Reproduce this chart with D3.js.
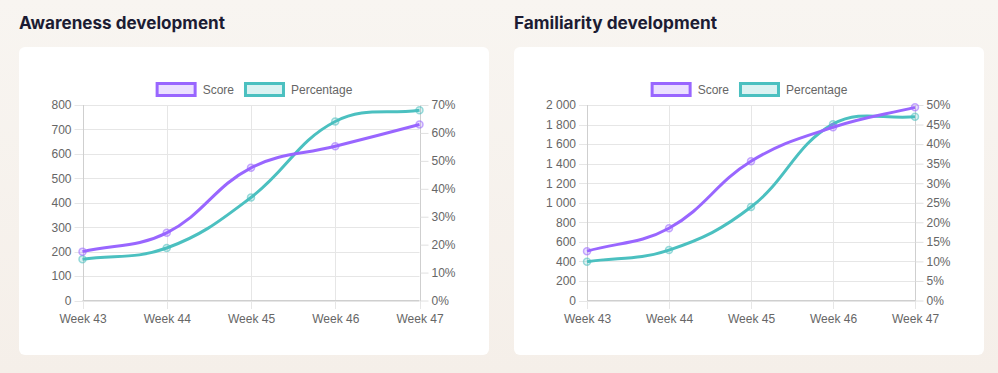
<!DOCTYPE html>
<html lang="en">
<head>
<meta charset="utf-8">
<title>Development charts</title>
<script src="https://cdn.jsdelivr.net/npm/d3@7"></script>
<style>
  html, body { margin: 0; padding: 0; }
  body { background: #f6f1eb; width: 998px; height: 373px; overflow: hidden; }
  svg { display: block; }
</style>
</head>
<body>
<script>
// Data
var weeks = ["Week 43", "Week 44", "Week 45", "Week 46", "Week 47"];

var awarenessScore = [200, 277, 543, 631, 720];
var awarenessPct = [14.8, 18.8, 36.9, 64.1, 68.1];
var awarenessScoreTicks = [0, 100, 200, 300, 400, 500, 600, 700, 800];
var awarenessPctTicks = [0, 10, 20, 30, 40, 50, 60, 70];

var familiarityScore = [505, 739, 1424, 1772, 1976];
var familiarityPct = [9.9, 12.9, 23.9, 45.1, 47.0];
var familiarityScoreTicks = [0, 200, 400, 600, 800, 1000, 1200, 1400, 1600, 1800, 2000];
var familiarityPctTicks = [0, 5, 10, 15, 20, 25, 30, 35, 40, 45, 50];

var purple = "#9966ff", purpleFill = "rgba(153,102,255,0.2)";
var teal = "#4bc0c0", tealFill = "rgba(75,192,192,0.2)";
var labelFont = "'Liberation Sans', Arial, Helvetica, sans-serif";

var spaceFmt = d3.formatLocale({ decimal: ",", thousands: " ", grouping: [3], currency: ["", ""] }).format(",d");

var svg = d3.select("body").append("svg")
    .attr("width", 998)
    .attr("height", 373);

// soft page background
var defs = svg.append("defs");
var grad = defs.append("linearGradient").attr("id", "bg").attr("x1", 0).attr("y1", 0).attr("x2", 0).attr("y2", 1);
grad.append("stop").attr("offset", "0%").attr("stop-color", "#f8f5f1");
grad.append("stop").attr("offset", "100%").attr("stop-color", "#f5efe9");
svg.append("rect").attr("width", 998).attr("height", 373).attr("fill", "url(#bg)");

// chart.js-like bezier spline through pixel points
function splinePath(pts, t) {
    var cps = pts.map(function(cur, i) {
        var prev = pts[i - 1] || cur, next = pts[i + 1] || cur;
        var d01 = Math.hypot(cur[0] - prev[0], cur[1] - prev[1]);
        var d12 = Math.hypot(next[0] - cur[0], next[1] - cur[1]);
        var s01 = d01 / (d01 + d12), s12 = d12 / (d01 + d12);
        if (isNaN(s01)) s01 = 0;
        if (isNaN(s12)) s12 = 0;
        var fa = t * s01, fb = t * s12;
        return {
            prev: [cur[0] - fa * (next[0] - prev[0]), cur[1] - fa * (next[1] - prev[1])],
            next: [cur[0] + fb * (next[0] - prev[0]), cur[1] + fb * (next[1] - prev[1])]
        };
    });
    var p = d3.path();
    p.moveTo(pts[0][0], pts[0][1]);
    for (var i = 1; i < pts.length; i++) {
        p.bezierCurveTo(cps[i - 1].next[0], cps[i - 1].next[1], cps[i].prev[0], cps[i].prev[1], pts[i][0], pts[i][1]);
    }
    return p.toString();
}

function drawChart(opt) {
    var card = svg.append("g").attr("transform", "translate(" + opt.x + ",0)");

    card.append("text")
        .attr("x", 0).attr("y", 29)
        .attr("font-family", "Inter, 'Open Sans', sans-serif")
        .attr("font-weight", 700)
        .attr("font-size", 17)
        .attr("fill", "#1c1c33")
        .attr("textLength", opt.titleWidth)
        .attr("lengthAdjust", "spacingAndGlyphs")
        .text(opt.title);

    card.append("rect")
        .attr("x", 0).attr("y", 47)
        .attr("width", 470).attr("height", 308)
        .attr("rx", 6)
        .attr("fill", "#ffffff");

    var x = d3.scalePoint().domain(weeks).range([opt.left, opt.right]);
    var yL = d3.scaleLinear().domain([0, opt.leftMax]).range([300.5, 105]);
    var yR = d3.scaleLinear().domain([0, opt.rightMax]).range([300.5, 105]);

    // horizontal grid
    card.append("g").selectAll("line")
        .data(opt.leftTicks)
        .join("line")
        .attr("x1", opt.left - 8).attr("x2", opt.right)
        .attr("y1", function(d) { return Math.round(yL(d)) + 0.5; })
        .attr("y2", function(d) { return Math.round(yL(d)) + 0.5; })
        .attr("stroke", "#e6e6e6");

    // vertical grid
    card.append("g").selectAll("line")
        .data(weeks)
        .join("line")
        .attr("x1", function(d) { return Math.round(x(d)) + 0.5; })
        .attr("x2", function(d) { return Math.round(x(d)) + 0.5; })
        .attr("y1", 105).attr("y2", 309)
        .attr("stroke", "#e6e6e6");

    // axis borders
    card.append("line")
        .attr("x1", Math.round(opt.left) + 0.5).attr("x2", Math.round(opt.left) + 0.5)
        .attr("y1", 105).attr("y2", 301)
        .attr("stroke", "#cfcfcf");
    card.append("line")
        .attr("x1", opt.left).attr("x2", opt.right)
        .attr("y1", 300.5).attr("y2", 300.5)
        .attr("stroke", "#cfcfcf");

    // left axis
    var leftAxis = d3.axisLeft(yL).tickValues(opt.leftTicks).tickSize(0).tickPadding(11).tickFormat(opt.leftFmt);
    var gl = card.append("g").attr("transform", "translate(" + opt.left + ",0)").call(leftAxis);
    gl.select(".domain").remove();

    // right axis
    var rightAxis = d3.axisRight(yR).tickValues(opt.rightTicks).tickSize(8).tickPadding(3)
        .tickFormat(function(d) { return d + "%"; });
    var gr = card.append("g").attr("transform", "translate(" + (Math.round(opt.right) + 0.5) + ",0)").call(rightAxis);
    gr.select(".domain").attr("stroke", "#cfcfcf").attr("d", "M0,105V301");
    gr.selectAll(".tick line").attr("stroke", "#e0e0e0");

    // bottom axis
    var bottomAxis = d3.axisBottom(x).tickSize(0).tickPadding(14);
    var gb = card.append("g").attr("transform", "translate(0,300.5)").call(bottomAxis);
    gb.select(".domain").remove();

    card.selectAll(".tick text")
        .attr("font-family", labelFont)
        .attr("font-size", 12)
        .attr("fill", "#666");

    // lines
    var series = [
        { values: opt.score, scale: yL, color: purple, fill: purpleFill },
        { values: opt.pct, scale: yR, color: teal, fill: tealFill }
    ];
    series.slice().reverse().forEach(function(s) {
        var pts = s.values.map(function(v, i) { return [x(weeks[i]), s.scale(v)]; });
        card.append("path")
            .attr("d", splinePath(pts, 0.4))
            .attr("fill", "none")
            .attr("stroke", s.color)
            .attr("stroke-width", 3);
        card.append("g").selectAll("circle")
            .data(s.values)
            .join("circle")
            .attr("cx", function(d, i) { return x(weeks[i]); })
            .attr("cy", function(d) { return s.scale(d); })
            .attr("r", 3.5)
            .attr("fill", s.fill)
            .attr("stroke", s.color)
            .attr("stroke-opacity", 0.55)
            .attr("stroke-width", 1.5);
    });

    // legend
    var legend = card.append("g");
    var items = [
        { label: "Score", color: purple, fill: purpleFill },
        { label: "Percentage", color: teal, fill: tealFill }
    ];
    var lx = 0;
    items.forEach(function(it) {
        var g = legend.append("g").attr("transform", "translate(" + lx + ",0)");
        g.append("rect")
            .attr("x", 1.5).attr("y", 83.5)
            .attr("width", 38).attr("height", 12)
            .attr("fill", it.fill)
            .attr("stroke", it.color)
            .attr("stroke-width", 3);
        var t = g.append("text")
            .attr("x", 47).attr("y", 93.5)
            .attr("font-family", labelFont)
            .attr("font-size", 12)
            .attr("fill", "#666")
            .text(it.label);
        lx += 47 + t.node().getComputedTextLength() + 10;
    });
    var totalW = lx - 10;
    legend.attr("transform", "translate(" + (235 - totalW / 2) + ",0)");
}

drawChart({
    x: 19,
    title: "Awareness development",
    titleWidth: 206,
    left: 63.5, right: 400.5,
    leftMax: 800, rightMax: 70,
    leftTicks: awarenessScoreTicks, rightTicks: awarenessPctTicks,
    leftFmt: spaceFmt,
    score: awarenessScore, pct: awarenessPct
});

drawChart({
    x: 514,
    title: "Familiarity development",
    titleWidth: 203,
    left: 73, right: 401,
    leftMax: 2000, rightMax: 50,
    leftTicks: familiarityScoreTicks, rightTicks: familiarityPctTicks,
    leftFmt: spaceFmt,
    score: familiarityScore, pct: familiarityPct
});
</script>
</body>
</html>
